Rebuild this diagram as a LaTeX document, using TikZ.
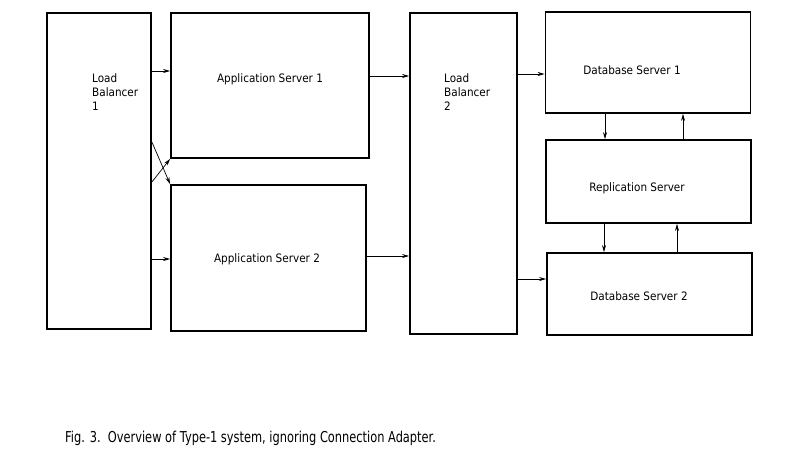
\documentclass[tikz,border=0pt]{standalone}
\usepackage{fontspec}
\setmainfont{DejaVu Sans}
\newfontfamily\capfont[FakeStretch=0.76]{DejaVu Sans}
\newfontfamily\lblfont[FakeStretch=0.9]{DejaVu Sans}
\usetikzlibrary{arrows.meta,calc}
\begin{document}
\begin{tikzpicture}[x=1pt,y=-1pt,
  blk/.style={draw,line width=1.8pt,inner sep=0pt},
  lbl/.style={font=\lblfont\fontsize{11.6}{14}\selectfont,inner sep=0pt},
  conn/.style={line width=0.7pt,-{Stealth[length=7pt,width=4pt]}}]
\useasboundingbox (0,0) rectangle (800,461);
\node[blk,minimum width=104pt,minimum height=316pt] (lb1) at (99,171) {};
\node[blk,minimum width=198pt,minimum height=145pt] (as1) at (270,85.5) {};
\node[blk,minimum width=195pt,minimum height=146pt] (as2) at (268.5,258) {};
\node[blk,minimum width=107pt,minimum height=321pt] (lb2) at (463.5,173.5) {};
\node[blk,minimum width=205pt,minimum height=101pt] (db1) at (648,62.5) {};
\node[blk,minimum width=205pt,minimum height=83pt] (rep) at (648.5,181.5) {};
\node[blk,minimum width=205pt,minimum height=82pt] (db2) at (649.5,294) {};
% labels
\node[lbl,align=left,anchor=north west] (t1) at (92,73) {Load\\Balancer\\1};
\node[lbl] (t2) at (270,79) {Application Server 1};
\node[lbl] (t3) at (267,259) {Application Server 2};
\node[lbl,align=left,anchor=north west] (t4) at (444,73) {Load\\Balancer\\2};
\node[lbl] (t5) at (632,70) {Database Server 1};
\node[lbl] (t6) at (637,188) {Replication Server};
\node[lbl] (t7) at (639,296) {Database Server 2};
\node[font=\capfont\fontsize{15}{18}\selectfont,anchor=west,inner sep=0pt] (cap) at (65,438) {Fig. 3.\ \ Overview of Type-1 system, ignoring Connection Adapter.};
% connectors
\draw[conn] (lb1.east |- 0,71) -- (as1.west |- 0,71);
\draw[conn] (lb1.east |- 0,259) -- (as2.west |- 0,259);
\draw[conn] (lb1.east |- 0,182) -- (as1.south west);
\draw[conn] (lb1.east |- 0,142) -- (as2.north west);
\draw[conn] (as1.east |- 0,76) -- (lb2.west |- 0,76);
\draw[conn] (as2.east |- 0,256) -- (lb2.west |- 0,256);
\draw[conn] (lb2.east |- 0,74) -- (db1.west |- 0,74);
\draw[conn] (lb2.east |- 0,279) -- (db2.west |- 0,279);
\draw[conn] (db1.south -| 605,0) -- (rep.north -| 605,0);
\draw[conn] (rep.north -| 683,0) -- (db1.south -| 683,0);
\draw[conn] (rep.south -| 604,0) -- (db2.north -| 604,0);
\draw[conn] (db2.north -| 677,0) -- (rep.south -| 677,0);
\end{tikzpicture}
\end{document}
